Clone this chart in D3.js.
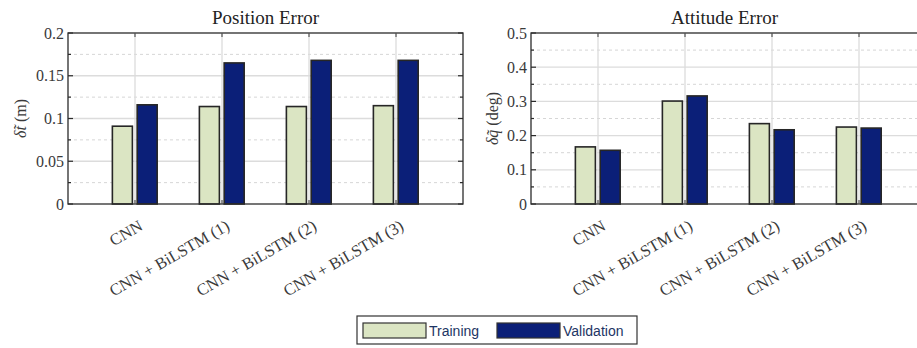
<!DOCTYPE html>
<html>
<head>
<meta charset="utf-8">
<script src="https://cdn.jsdelivr.net/npm/d3@7"></script>
<style>
  html, body { margin: 0; padding: 0; background: #fff; }
  svg { display: block; }
</style>
</head>
<body>
<svg id="chart" width="917" height="348"></svg>
<script>
// Model variants compared in both panels
const categories = ["CNN", "CNN + BiLSTM (1)", "CNN + BiLSTM (2)", "CNN + BiLSTM (3)"];
const seriesNames = ["Training", "Validation"];

// Position error (m)
const posTraining   = [0.091, 0.114, 0.114, 0.115];
const posValidation = [0.116, 0.165, 0.168, 0.168];
const posTicks = [0, 0.05, 0.1, 0.15, 0.2];
const posTickLabels = ["0", "0.05", "0.1", "0.15", "0.2"];

// Attitude error (deg)
const attTraining   = [0.167, 0.301, 0.235, 0.225];
const attValidation = [0.157, 0.316, 0.217, 0.222];
const attTicks = [0, 0.1, 0.2, 0.3, 0.4, 0.5];
const attTickLabels = ["0", "0.1", "0.2", "0.3", "0.4", "0.5"];

const colors = ["#dbe5c3", "#0b1f78"];
const serif = "'Liberation Serif', 'Times New Roman', serif";
const textCol = "#3a3a3a";

const svg = d3.select("#chart");

function panel(opts) {
  const { left, top, width, height, yMax, ticks, tickLabels, training, validation, title, ylabel } = opts;
  const g = svg.append("g");
  const x = d3.scaleLinear().domain([0.23, 4.77]).range([left, left + width]);
  const y = d3.scaleLinear().domain([0, yMax]).range([top + height, top]);
  const step = ticks[1] - ticks[0];
  const minor = ticks.slice(0, -1).map(t => t + step / 2);

  // plot background
  g.append("rect").attr("x", left).attr("y", top).attr("width", width).attr("height", height)
    .attr("fill", "#fff");

  // minor grid (dashed)
  g.selectAll(".minor").data(minor).join("line")
    .attr("x1", left).attr("x2", left + width)
    .attr("y1", d => y(d)).attr("y2", d => y(d))
    .attr("stroke", "#d6d6d6").attr("stroke-width", 1).attr("stroke-dasharray", "3,3");
  // major grid
  g.selectAll(".major").data(ticks.slice(1, -1)).join("line")
    .attr("x1", left).attr("x2", left + width)
    .attr("y1", d => y(d)).attr("y2", d => y(d))
    .attr("stroke", "#dcdcdc").attr("stroke-width", 1.3);
  // vertical grid at categories
  g.selectAll(".vgrid").data(categories).join("line")
    .attr("x1", (d, i) => x(i + 1)).attr("x2", (d, i) => x(i + 1))
    .attr("y1", top).attr("y2", top + height)
    .attr("stroke", "#dcdcdc").attr("stroke-width", 1.3);

  // bars
  const bw = 0.23;
  const offs = [-0.26, 0.025];
  [training, validation].forEach((vals, s) => {
    g.selectAll(".bar" + s).data(vals).join("rect")
      .attr("x", (d, i) => x(i + 1 + offs[s]))
      .attr("width", x(bw) - x(0))
      .attr("y", d => y(d))
      .attr("height", d => y(0) - y(d))
      .attr("fill", colors[s])
      .attr("stroke", "#262626").attr("stroke-width", 1.6);
  });

  // axis box
  g.append("rect").attr("x", left).attr("y", top).attr("width", width).attr("height", height)
    .attr("fill", "none").attr("stroke", "#2b2b2b").attr("stroke-width", 1.3);

  // inward ticks: left & right (major + minor)
  const tickData = ticks.map(t => ({ v: t, len: 5 })).concat(minor.map(t => ({ v: t, len: 3 })));
  g.selectAll(".tl").data(tickData).join("line")
    .attr("x1", left).attr("x2", d => left + d.len)
    .attr("y1", d => y(d.v)).attr("y2", d => y(d.v))
    .attr("stroke", "#2b2b2b").attr("stroke-width", 1.2);
  g.selectAll(".tr").data(tickData).join("line")
    .attr("x1", left + width).attr("x2", d => left + width - d.len)
    .attr("y1", d => y(d.v)).attr("y2", d => y(d.v))
    .attr("stroke", "#2b2b2b").attr("stroke-width", 1.2);
  // category ticks top & bottom
  categories.forEach((c, i) => {
    g.append("line").attr("x1", x(i + 1)).attr("x2", x(i + 1))
      .attr("y1", top).attr("y2", top + 4).attr("stroke", "#555").attr("stroke-width", 1.2);
    g.append("line").attr("x1", x(i + 1)).attr("x2", x(i + 1))
      .attr("y1", top + height).attr("y2", top + height - 4).attr("stroke", "#555").attr("stroke-width", 1.2);
  });

  // y tick labels
  g.selectAll(".ytl").data(ticks).join("text")
    .attr("x", left - 4).attr("y", d => y(d))
    .attr("dy", "0.35em").attr("text-anchor", "end")
    .attr("font-family", serif).attr("font-size", 16).attr("fill", textCol)
    .text((d, i) => tickLabels[i]);

  // rotated category labels
  g.selectAll(".xtl").data(categories).join("text")
    .attr("transform", (d, i) => `translate(${x(i + 1) + 3},${top + height + 15}) rotate(-30)`)
    .attr("text-anchor", "end").attr("dy", "0.7em")
    .attr("font-family", serif).attr("font-size", 16.5).attr("fill", textCol)
    .text(d => d);

  // title
  g.append("text").attr("x", left + width / 2 - (opts.titleShift || 0)).attr("y", top - 9)
    .attr("text-anchor", "middle")
    .attr("font-family", serif).attr("font-size", 19).attr("fill", "#222")
    .text(title);

  // y label
  const yl = g.append("text")
    .attr("transform", `translate(${opts.ylabelX},${top + height / 2}) rotate(-90)`)
    .attr("text-anchor", "middle")
    .attr("font-family", serif).attr("font-size", 16).attr("fill", textCol);
  yl.append("tspan").attr("font-style", "italic").text(ylabel[0]);
  yl.append("tspan").text(ylabel[1]);
}

panel({
  left: 68, top: 33, width: 395, height: 171, yMax: 0.2,
  ticks: posTicks, tickLabels: posTickLabels,
  training: posTraining, validation: posValidation,
  title: "Position Error", ylabel: ["δt\u0303", " (m)"], ylabelX: 26
});

panel({
  left: 531, top: 33, width: 395, height: 171, yMax: 0.5,
  ticks: attTicks, tickLabels: attTickLabels,
  training: attTraining, validation: attValidation,
  title: "Attitude Error", ylabel: ["δq\u0303", " (deg)"], ylabelX: 498, titleShift: 4
});

// legend
const lg = svg.append("g");
lg.append("rect").attr("x", 357).attr("y", 316).attr("width", 280).attr("height", 28)
  .attr("fill", "#fff").attr("stroke", "#333").attr("stroke-width", 1.2);
const legendX = [363, 497];
seriesNames.forEach((name, i) => {
  lg.append("rect").attr("x", legendX[i]).attr("y", 323).attr("width", 63).attr("height", 15)
    .attr("fill", colors[i]).attr("stroke", "#333").attr("stroke-width", 1.2);
  lg.append("text").attr("x", legendX[i] + 66).attr("y", 331).attr("dy", "0.35em")
    .attr("font-family", "'Liberation Sans', Arial, sans-serif").attr("font-size", 14)
    .attr("fill", "#1d3564").text(name);
});
</script>
</body>
</html>
